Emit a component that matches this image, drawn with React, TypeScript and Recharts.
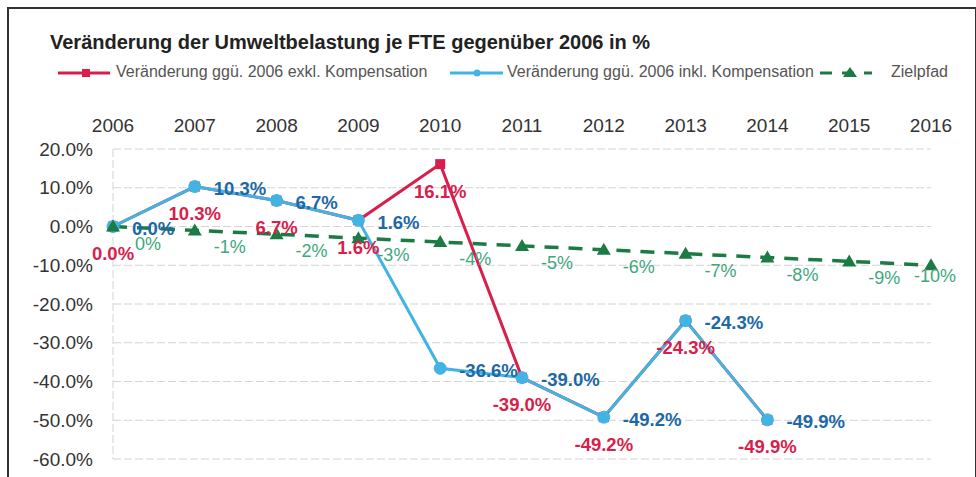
import React from "react";
import {
  LineChart,
  Line,
  XAxis,
  YAxis,
  CartesianGrid,
  ReferenceLine,
  Legend,
  LabelList,
} from "recharts";

// Werte
const years = [2006, 2007, 2008, 2009, 2010, 2011, 2012, 2013, 2014, 2015, 2016];
const exklKompensation = [0.0, 10.3, 6.7, 1.6, 16.1, -39.0, -49.2, -24.3, -49.9, null, null];
const inklKompensation = [0.0, 10.3, 6.7, 1.6, -36.6, -39.0, -49.2, -24.3, -49.9, null, null];
const zielpfad = [0, -1, -2, -3, -4, -5, -6, -7, -8, -9, -10];
const yTicks = [20, 10, 0, -10, -20, -30, -40, -50, -60];

const data = years.map((year, i) => ({
  year,
  exkl: exklKompensation[i],
  inkl: inklKompensation[i],
  ziel: zielpfad[i],
}));

const FONT = '"Liberation Sans", Arial, sans-serif';
const RED = "#d81f4b";
const BLUE = "#42b4e4";
const BLUE_TEXT = "#1d68a6";
const GREEN = "#1c7b45";
const GREEN_TEXT = "#3ea77c";

const SERIES_NAMES = {
  exkl: "Veränderung ggü. 2006 exkl. Kompensation",
  inkl: "Veränderung ggü. 2006 inkl. Kompensation",
  ziel: "Zielpfad",
};

function Triangle(props: any) {
  const { cx, cy } = props;
  if (cx == null || cy == null) return null;
  return (
    <polygon
      points={`${cx},${cy - 7} ${cx + 7},${cy + 5} ${cx - 7},${cy + 5}`}
      fill={GREEN}
    />
  );
}

function Square(props: any) {
  const { cx, cy } = props;
  if (cx == null || cy == null) return null;
  return <rect x={cx - 5} y={cy - 5} width={10} height={10} fill={RED} />;
}

const redLabel = (p: any) => {
  if (p.value == null) return null;
  return (
    <text x={p.x} y={p.y + 27} textAnchor="middle" dominantBaseline="central"
      fill={RED} fontSize={18.5} fontWeight="bold" fontFamily={FONT}>
      {Number(p.value).toFixed(1)}%
    </text>
  );
};

const blueLabel = (p: any) => {
  if (p.value == null) return null;
  return (
    <text x={p.x + 19} y={p.y + 2} textAnchor="start" dominantBaseline="central"
      fill={BLUE_TEXT} fontSize={18.5} fontWeight="bold" fontFamily={FONT}>
      {Number(p.value).toFixed(1)}%
    </text>
  );
};

const greenLabel = (p: any) => {
  if (p.value == null) return null;
  const last = p.index === zielpfad.length - 1;
  return (
    <text x={last ? p.x + 4 : p.x + 35} y={last ? p.y + 11 : p.y + 17}
      textAnchor="middle" dominantBaseline="central"
      fill={GREEN_TEXT} fontSize={18} fontFamily={FONT}>
      {p.value}%
    </text>
  );
};

function LegendContent() {
  const txt = { fontSize: 16, color: "#555", fontFamily: FONT, whiteSpace: "nowrap" as const };
  return (
    <div style={{ position: "relative", height: 20 }}>
      <svg width={976} height={20} style={{ position: "absolute", left: 0, top: 0 }}>
        <line x1={58} x2={110} y1={10} y2={10} stroke={RED} strokeWidth={3} />
        <rect x={82} y={6} width={8} height={8} fill={RED} />
        <line x1={450} x2={503} y1={10} y2={10} stroke={BLUE} strokeWidth={3} />
        <circle cx={477} cy={10} r={3.5} fill={BLUE} />
        <line x1={820} x2={872} y1={10} y2={10} stroke={GREEN} strokeWidth={3} strokeDasharray="12 10" />
        <polygon points="850,4 857,14 843,14" fill={GREEN} />
      </svg>
      <span style={{ ...txt, position: "absolute", left: 116, top: 0 }}>{SERIES_NAMES.exkl}</span>
      <span style={{ ...txt, position: "absolute", left: 507, top: 0 }}>{SERIES_NAMES.inkl}</span>
      <span style={{ ...txt, position: "absolute", left: 891, top: 0 }}>{SERIES_NAMES.ziel}</span>
    </div>
  );
}

export default function App() {
  return (
    <div style={{ position: "absolute", left: 0, top: 0, width: 976, height: 477, background: "#fff", overflow: "hidden", fontFamily: FONT }}>
      <div style={{ position: "absolute", left: 7, top: 7, width: 966, height: 490, border: "2px solid #333" }} />
      <div style={{ position: "absolute", left: 50, top: 31, fontSize: 20, fontWeight: "bold", color: "#222", whiteSpace: "nowrap" }}>
        Veränderung der Umweltbelastung je FTE gegenüber 2006 in %
      </div>
      <LineChart
        width={976}
        height={477}
        data={data}
        margin={{ top: 89, right: 45, left: 0, bottom: 18 }}
        style={{ position: "absolute", left: 0, top: 0 }}
      >
        <CartesianGrid stroke="#d4d4d4" strokeDasharray="8 3" vertical={false} />
        <ReferenceLine x={2006} stroke="#d4d4d4" strokeDasharray="8 3" />
        <XAxis
          dataKey="year"
          type="number"
          domain={[2006, 2016]}
          ticks={years}
          orientation="top"
          height={40}
          axisLine={false}
          tickLine={false}
          tickMargin={11}
          tick={{ fill: "#333", fontSize: 19, fontFamily: FONT }}
        />
        <YAxis
          type="number"
          domain={[-60, 20]}
          ticks={yTicks}
          width={113}
          axisLine={false}
          tickLine={false}
          tickMargin={14}
          tickFormatter={(v: number) => `${v.toFixed(1)}%`}
          tick={{ fill: "#333", fontSize: 19, fontFamily: FONT }}
        />
        <Legend
          verticalAlign="top"
          content={<LegendContent />}
          wrapperStyle={{ position: "absolute", top: 63, left: 0, width: 976 }}
        />
        <Line
          dataKey="exkl"
          name={SERIES_NAMES.exkl}
          stroke={RED}
          strokeWidth={3}
          dot={<Square />}
          activeDot={false}
          isAnimationActive={false}
        >
          <LabelList dataKey="exkl" content={redLabel} />
        </Line>
        <Line
          dataKey="inkl"
          name={SERIES_NAMES.inkl}
          stroke={BLUE}
          strokeWidth={3}
          dot={{ r: 6, fill: BLUE, stroke: BLUE, strokeWidth: 1 }}
          activeDot={false}
          isAnimationActive={false}
        >
          <LabelList dataKey="inkl" content={blueLabel} />
        </Line>
        <Line
          dataKey="ziel"
          name={SERIES_NAMES.ziel}
          stroke={GREEN}
          strokeWidth={3.5}
          strokeDasharray="14 10"
          dot={<Triangle />}
          activeDot={false}
          isAnimationActive={false}
        >
          <LabelList dataKey="ziel" content={greenLabel} />
        </Line>
      </LineChart>
    </div>
  );
}
